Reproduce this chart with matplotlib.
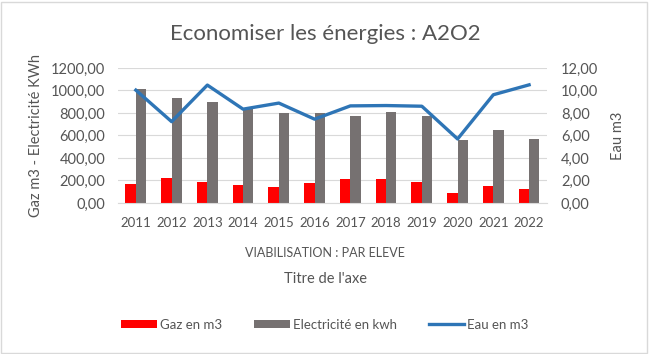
import matplotlib.pyplot as plt
import numpy as np
from matplotlib.patches import Rectangle
from matplotlib.ticker import FuncFormatter

plt.rcParams['font.family'] = ['Lato', 'DejaVu Sans']

years = ["2011", "2012", "2013", "2014", "2015", "2016",
         "2017", "2018", "2019", "2020", "2021", "2022"]
gaz = [173, 218, 185, 158, 146, 176, 212, 212, 185, 87, 155, 125]
elec = [1015, 929, 899, 842, 801, 801, 771, 807, 771, 557, 652, 569]
eau = [10.03, 7.23, 10.48, 8.34, 8.88, 7.45, 8.63, 8.66, 8.6, 5.69, 9.62, 10.5]

txt = "#555555"
fig = plt.figure(figsize=(6.5, 3.54), dpi=100)
fig.patches.append(Rectangle((0.002, 0.003), 0.994, 0.992, transform=fig.transFigure,
                             fill=False, edgecolor="#d9d9d9", lw=1))

ax = fig.add_axes([0.1815, 0.4266, 0.66, 0.3814])
x = np.arange(len(years))
w = 0.29
ax.bar(x - w / 2, gaz, w, color="#ff0000", label="Gaz en m3", zorder=2)
ax.bar(x + w / 2, elec, w, color="#767171", label="Electricité en kwh", zorder=2)
ax.set_xlim(-0.5, len(years) - 0.5)
ax.set_ylim(0, 1200)
ax.set_yticks(np.arange(0, 1201, 200))
fmt = FuncFormatter(lambda v, p: f"{v:.2f}".replace(".", ","))
ax.yaxis.set_major_formatter(fmt)
ax.grid(axis="y", color="#d9d9d9", lw=0.8, zorder=0)
ax.set_xticks(x)
ax.set_xticklabels(years)
for s in ["top", "left", "right"]:
    ax.spines[s].set_visible(False)
ax.spines["bottom"].set_color("#d9d9d9")
ax.tick_params(length=0, colors=txt)
ax.tick_params(axis="x", pad=10, labelsize=9.5)
ax.tick_params(axis="y", pad=9, labelsize=10.5)
ax.set_ylabel("Gaz m3 - Electricité KWh", color=txt, fontsize=10.5, labelpad=6)

ax2 = ax.twinx()
ax2.plot(x, eau, color="#2e75b6", lw=2.4, label="Eau en m3", zorder=3)
ax2.set_ylim(0, 12)
ax2.set_yticks(np.arange(0, 13, 2))
ax2.yaxis.set_major_formatter(fmt)
for s in ax2.spines.values():
    s.set_visible(False)
ax2.tick_params(length=0, colors=txt, labelsize=10.5, pad=10)
ax2.set_ylabel("Eau m3", color=txt, fontsize=10.5, labelpad=9)

fig.text(0.5, 0.905, "Economiser les énergies : A2O2", ha="center", va="center",
         fontsize=16, color=txt)
fig.text(0.5, 0.285, "VIABILISATION : PAR ELEVE", ha="center", va="center",
         fontsize=9, color=txt)
fig.text(0.5, 0.212, "Titre de l'axe", ha="center", va="center",
         fontsize=10.5, color=txt)

h1, l1 = ax.get_legend_handles_labels()
h2, l2 = ax2.get_legend_handles_labels()
fig.legend(h1 + h2, l1 + l2, loc="center", bbox_to_anchor=(0.5, 0.083), ncol=3,
           frameon=False, fontsize=9.5, labelcolor=txt, handlelength=2.7,
           handleheight=0.6, handletextpad=0.25, columnspacing=2.4)

fig.savefig("out.png", dpi=100)
